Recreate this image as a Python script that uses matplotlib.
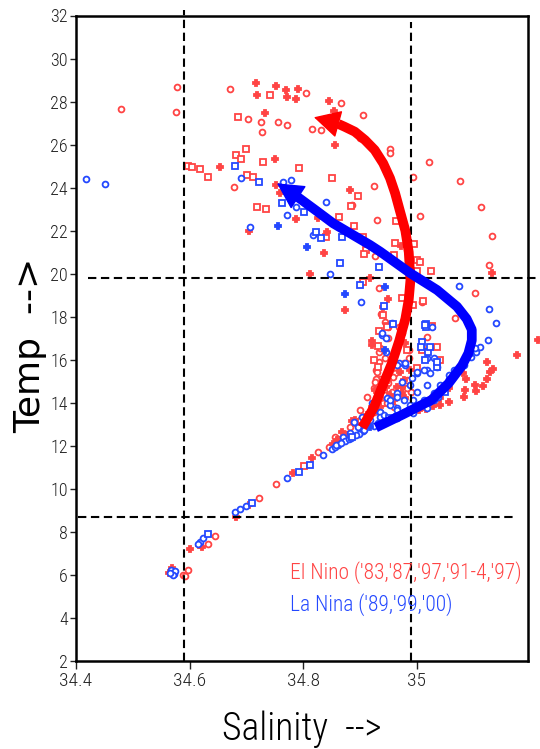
import matplotlib
matplotlib.use("Agg")
import matplotlib.pyplot as plt

plt.rcParams['font.family'] = ['Roboto Condensed', 'DejaVu Sans']
plt.rcParams['font.weight'] = 'light'

# ---- El Nino points (salinity, temperature), split by plot symbol ----
en_circ_sal = [34.577, 34.576, 34.479, 34.671, 34.703, 34.726, 34.728, 34.679,
               34.805, 34.867, 34.755, 34.772, 34.815, 34.832, 34.905, 34.900, 34.953, 34.953,
               34.994, 35.021, 35.076, 35.114, 34.925, 34.886, 34.927, 34.930, 34.933, 35.005,
               35.133, 35.127, 35.103, 35.068,
               34.588, 34.598, 34.592, 34.633, 34.645, 34.722, 34.752, 34.826,
               34.933, 34.929, 34.936, 34.942, 34.945, 34.962, 34.977, 34.983, 34.950, 34.883,
               34.856, 34.900, 34.912, 34.968, 35.018,
               34.934, 34.928, 34.925, 34.941, 34.944, 34.937,
               34.875, 34.900, 34.935, 34.960, 34.990,
               34.936, 34.944, 34.930, 34.927, 34.962, 34.959, 34.950, 34.983, 34.956, 34.944,
               34.947, 34.924, 34.900, 34.986, 34.986, 34.974, 34.950, 35.009,
               34.862, 34.845]
en_circ_temp = [28.69, 27.50, 27.64, 28.57, 27.19, 27.07, 26.60, 24.02,
                28.38, 27.92, 27.07, 26.91, 26.73, 26.68, 27.38, 26.29, 25.78, 25.60,
                24.48, 25.21, 24.32, 23.12, 24.09, 23.19, 20.82, 22.50, 19.32, 22.70,
                21.77, 20.41, 19.12, 17.93,
                6.00, 6.23, 5.95, 7.44, 7.81, 9.59, 10.22, 11.70,
                15.91, 15.53, 15.09, 14.52, 14.13, 15.37, 15.84, 15.06, 17.00, 12.89,
                12.43, 13.67, 14.29, 17.54, 17.07,
                16.38, 15.09, 14.70, 13.97, 17.74, 18.14,
                12.55, 12.95, 13.55, 13.80, 14.50,
                16.53, 16.07, 15.45, 14.98, 15.68, 15.22, 14.91, 14.68, 14.52, 14.36,
                13.98, 13.59, 13.20, 16.46, 16.07, 17.23, 17.54, 18.70,
                12.30, 11.95]

en_sq_sal = [34.741, 34.685, 34.700, 34.682, 34.690, 34.597, 34.605, 34.619, 34.633, 34.701,
             34.712, 34.730, 34.719, 34.734,
             34.792, 34.850, 34.897, 34.885,
             34.841, 34.864, 34.889, 34.906, 34.910, 34.908, 34.906,
             34.964, 34.962, 34.996, 34.960, 35.000, 35.005, 35.025, 35.000,
             34.974, 34.993, 35.011, 34.941, 34.947, 35.027,
             34.801,
             34.947, 34.931, 34.983, 35.000, 35.009,
             34.931, 34.934,
             35.036, 35.041, 34.924]
en_sq_temp = [28.31, 27.30, 25.78, 25.52, 25.33, 25.01, 24.97, 24.85, 24.51, 24.59,
              24.48, 25.18, 23.12, 23.01,
              24.93, 24.44, 23.63, 23.16,
              21.72, 22.62, 22.22, 21.72, 21.10, 20.92, 19.63,
              22.46, 21.41, 21.38, 20.87, 20.64, 20.53, 20.14, 20.13,
              18.86, 18.55, 18.75, 18.08, 17.57, 17.59,
              11.08,
              17.54, 16.64, 16.46, 15.61, 16.46,
              15.66, 17.34,
              16.61, 15.99, 15.99]

en_plus_sal = [34.717, 34.719, 34.733, 34.653, 34.753, 34.769, 34.771, 34.791, 34.787, 34.846,
               34.855, 34.856, 34.750, 34.882, 34.752, 34.759,
               34.704, 34.787, 34.827, 34.842, 34.836, 34.812, 34.917, 34.874,
               34.973, 35.133, 34.949,
               35.177, 35.214, 35.123, 35.135, 35.129, 35.123, 35.117, 35.105, 35.083, 35.056,
               35.041, 35.029, 35.017, 35.004, 35.086, 35.056,
               34.563, 34.569, 34.600, 34.616, 34.622, 34.681, 34.704, 34.782, 34.816, 34.859,
               34.921, 34.946, 34.953, 34.956, 34.950, 34.974, 34.989, 34.892, 34.868, 34.921, 34.927,
               34.922, 34.934, 34.886, 34.941,
               34.870, 34.915, 34.980,
               34.930, 34.971, 34.977, 34.965, 34.974, 34.963, 34.936, 34.912, 34.889, 34.980,
               35.082, 35.085, 35.103, 35.041, 35.024, 35.012, 34.997,
               34.852, 34.878]
en_plus_temp = [28.85, 28.31, 27.48, 24.95, 28.74, 28.54, 28.20, 28.58, 28.11, 28.04,
                27.58, 25.98, 25.33, 23.89, 24.12, 23.74,
                22.00, 22.54, 22.58, 21.95, 20.98, 19.99, 19.79, 18.32,
                21.29, 20.02, 18.81,
                16.21, 16.94, 15.89, 15.57, 15.42, 15.09, 14.77, 14.53, 14.29, 14.05,
                13.89, 13.84, 13.73, 13.65, 15.09, 14.70,
                6.08, 6.31, 7.21, 7.40, 7.32, 8.71, 9.25, 10.73, 11.42, 12.27,
                16.89, 14.75, 14.37, 13.98, 15.06, 14.75, 15.53, 13.20, 12.66, 13.82, 14.60,
                16.70, 14.37, 13.17, 18.46,
                12.35, 13.30, 14.20,
                14.60, 15.45, 15.06, 14.75, 14.44, 14.21, 13.82, 13.44, 13.05, 16.77,
                15.37, 14.60, 14.83, 14.21, 14.13, 13.98, 13.82,
                12.10, 12.48]

# ---- La Nina points ----
ln_circ_sal = [34.418, 34.451, 34.691, 34.764, 34.779, 34.788, 34.840, 34.772, 34.707, 34.818,
               34.848, 34.902, 35.074, 35.128, 35.140, 35.126, 35.111, 35.105, 35.096, 35.083,
               35.068, 35.056, 35.041,
               34.568, 34.573, 34.575, 34.570, 34.566, 34.618, 34.624, 34.614, 34.680, 34.689,
               34.700, 34.771, 34.835, 34.851, 34.856,
               34.956, 34.939, 34.968, 34.980, 35.000, 35.018, 35.030, 35.036,
               34.921, 34.965, 34.989, 34.953, 34.936, 34.912, 34.897, 34.883, 34.871,
               34.977, 35.000, 35.018, 34.947, 34.924, 34.903, 34.889, 34.936, 34.965, 34.994,
               34.946, 34.946,
               34.874, 34.905, 34.932, 34.972, 34.985, 35.022, 35.038,
               34.862, 34.880, 34.898, 34.925, 34.945, 34.962, 34.978, 35.012, 35.030,
               34.939, 35.027, 35.018, 35.012, 35.000, 35.024, 34.992, 34.974, 34.965, 34.980,
               34.965, 34.953, 35.094, 35.103, 35.065, 35.056, 34.918, 34.942, 34.965, 34.989,
               35.012, 35.030, 35.047, 34.936, 34.965, 34.994, 35.018,
               34.858, 34.866, 34.884, 34.893, 34.908]
ln_circ_temp = [24.40, 24.17, 24.46, 24.28, 24.36, 23.12, 23.35, 22.73, 22.19, 21.80,
                19.99, 18.70, 19.43, 18.36, 17.72, 16.94, 16.61, 16.38, 16.14, 15.74,
                15.42, 15.09, 14.85,
                6.22, 6.05, 6.18, 5.98, 6.10, 7.55, 7.71, 7.45, 8.94, 9.05,
                9.21, 10.49, 11.58, 11.84, 11.96,
                17.70, 17.15, 15.84, 15.76, 15.37, 15.53, 16.07, 15.68,
                13.98, 14.44, 14.83, 13.90, 13.59, 13.20, 12.89, 12.59, 12.43,
                14.13, 14.52, 14.83, 14.21, 13.67, 13.36, 13.12, 13.36, 13.75, 14.13,
                17.02, 16.38,
                12.22, 12.68, 13.05, 13.48, 13.66, 14.02, 14.27,
                12.06, 12.30, 12.55, 12.92, 13.15, 13.40, 13.58, 13.95, 14.15,
                17.23, 17.54, 16.07, 15.53, 15.45, 15.37, 15.14, 14.98, 15.76, 15.84,
                14.29, 14.13, 16.30, 16.53, 15.53, 15.30, 13.20, 13.44, 13.67, 13.90,
                14.13, 14.44, 14.72, 13.05, 13.28, 13.51, 13.74,
                12.02, 12.15, 12.38, 12.52, 12.74]

ln_sq_sal = [34.680, 34.722, 34.762, 34.801, 34.823, 34.831, 34.869, 34.865, 34.934, 34.900,
             34.942, 34.958, 35.017, 34.632, 34.710, 34.792, 34.812, 35.009, 35.015, 35.017,
             35.007, 35.020, 35.035, 34.886, 34.951, 35.050,
             35.015, 35.024, 35.036]
ln_sq_temp = [25.01, 24.28, 23.27, 22.88, 21.95, 21.67, 21.72, 20.51, 20.33, 19.48,
              18.50, 17.66, 17.65, 7.89, 9.36, 10.80, 11.11, 16.84, 15.99, 17.50,
              16.61, 16.38, 15.66, 12.40, 13.28, 14.48,
              17.62, 16.61, 15.91]

ln_plus_sal = [34.756, 34.807, 34.874, 34.945, 34.945, 34.918, 35.006]
ln_plus_temp = [22.22, 21.23, 19.04, 19.40, 16.46, 12.88, 13.84]

# ---- hand-drawn trend arrows ----
red_path_sal = [34.904, 34.914, 34.925, 34.940, 34.956, 34.969, 34.980, 34.986, 34.989,
                34.986, 34.980, 34.970, 34.962, 34.953, 34.941, 34.926, 34.909, 34.891,
                34.873, 34.862]
red_path_temp = [12.85, 13.30, 13.81, 14.80, 15.82, 16.86, 17.90, 18.80, 19.71,
                 21.00, 22.00, 22.96, 23.74, 24.44, 25.13, 25.75, 26.21, 26.60,
                 26.83, 26.96]
red_tip = (34.819, 27.27)

blue_path_sal = [34.928, 34.975, 35.026, 35.056, 35.080, 35.091, 35.097, 35.097, 35.088,
                 35.071, 35.036, 34.989, 34.936, 34.918, 34.853, 34.822, 34.788]
blue_path_temp = [12.85, 13.45, 14.13, 14.90, 15.74, 16.30, 16.90, 17.40, 17.90,
                  18.47, 19.24, 20.02, 21.02, 21.33, 22.34, 22.95, 23.61]
blue_tip = (34.754, 24.20)

# reference lines
vlines_sal = [34.59, 34.99]
vlines_top = [32.25, 31.7]
hlines_temp = [19.8, 8.7]
hlines_left = [34.421, 34.403]
hlines_right = [35.218, 35.174]

yticks = list(range(2, 33, 2))
xticks = [34.4, 34.6, 34.8, 35.0]
xtick_labels = ['34.4', '34.6', '34.8', '35']

RED = '#ff4444'
BLUE = '#2448ff'

fig = plt.figure(figsize=(5.4, 7.49), dpi=100)
ax = fig.add_axes([76 / 540, 1 - 661 / 749, 452 / 540, 645.5 / 749])
ax.set_xlim(34.4, 35.196)
ax.set_ylim(2, 32)


def pts(s, t, color, marker, filled=False):
    ax.plot(s, t, linestyle='none', marker=marker, ms=4.2, mew=1.3,
            mec=color, mfc=color if filled else 'white', clip_on=False, zorder=3)


pts(en_circ_sal, en_circ_temp, RED, 'o')
pts(en_sq_sal, en_sq_temp, RED, 's')
pts(en_plus_sal, en_plus_temp, RED, 'P', filled=True)
pts(ln_circ_sal, ln_circ_temp, BLUE, 'o')
pts(ln_sq_sal, ln_sq_temp, BLUE, 's')
pts(ln_plus_sal, ln_plus_temp, BLUE, 'P', filled=True)

# dashed guide lines
for s, top in zip(vlines_sal, vlines_top):
    ax.plot([s, s], [2, top], color='black', lw=1.5, dashes=(4, 2.2), clip_on=False, zorder=4)
for t, left, right in zip(hlines_temp, hlines_left, hlines_right):
    ax.plot([left, right], [t, t], color='black', lw=1.5, dashes=(4, 2.2), clip_on=False, zorder=4)

# arrows
for ps, pt, tip, col in [(red_path_sal, red_path_temp, red_tip, '#ff0000'),
                         (blue_path_sal, blue_path_temp, blue_tip, '#0000ff')]:
    ax.plot(ps, pt, color=col, lw=7, solid_capstyle='butt', solid_joinstyle='round', zorder=5)
    ax.annotate('', xy=tip, xytext=(ps[-1], pt[-1]),
                arrowprops=dict(arrowstyle='-|>,head_length=0.85,head_width=0.45',
                                mutation_scale=20, fc=col, ec=col, lw=1,
                                shrinkA=0, shrinkB=0), zorder=5)

ax.text(34.777, 6.12, "El Nino ('83,'87,'97,'91-4,'97)", color=RED, fontsize=15.5,
        ha='left', va='center', zorder=6)
ax.text(34.777, 4.60, "La Nina ('89,'99,'00)", color=BLUE, fontsize=15.5,
        ha='left', va='center', zorder=6)

ax.set_yticks(yticks)
ax.set_xticks(xticks)
ax.set_xticklabels(xtick_labels)
ax.tick_params(axis='y', direction='out', length=4, width=1, pad=2, labelsize=13, colors='#222222')
ax.tick_params(axis='x', direction='out', length=6, width=1, pad=2, labelsize=14, colors='#222222')
for sp in ax.spines.values():
    sp.set_linewidth(1.8)

fig.text(302 / 540, 1 - 740 / 749, 'Salinity  -->', fontsize=27, ha='center', va='baseline')
fig.text(30 / 540, 1 - 345 / 749, 'Temp  -->', fontsize=26, rotation=90,
         ha='center', va='center', family=['DejaVu Sans'], weight='normal')

fig.savefig('out.png', dpi=100)
